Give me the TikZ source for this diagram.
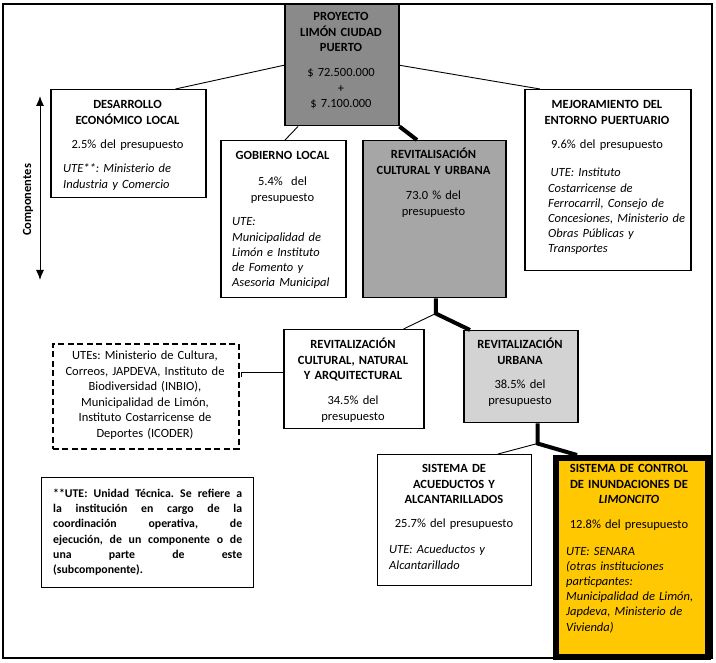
\documentclass[tikz,border=0pt]{standalone}
\usepackage{fontspec}
\setmainfont{Carlito}
\usetikzlibrary{arrows.meta,calc}
\newcommand\fsz{\fontsize{12.5pt}{15.2pt}\selectfont}
\newcommand\nsz{\fontsize{11.8pt}{15.4pt}\selectfont}
\newcommand\jline[1]{\leavevmode\hbox to 189pt{#1}}
\frenchspacing
\definecolor{projgray}{HTML}{8A8A8A}
\definecolor{revgray}{HTML}{A6A6A6}
\definecolor{urbgray}{HTML}{D3D3D3}
\definecolor{yel}{HTML}{FFC800}
\begin{document}
\begin{tikzpicture}[x=1pt,y=-1pt,
  every node/.style={font=\fsz},
  bx/.style={draw, line width=1.5pt, anchor=north west, inner sep=0pt},
  tc/.style={inner sep=0pt, anchor=base, align=center},
  tl/.style={inner sep=0pt, anchor=base west, align=left},
  hd/.style={tc, font=\fsz\bfseries},
  ut/.style={tl, font=\fsz\itshape},
  cthin/.style={line width=0.9pt},
  cthick/.style={line width=4pt, line join=miter},
]
\useasboundingbox (0,0) rectangle (716,663);
% outer frame
\draw[line width=1.5pt] (3,4) rectangle (712,658);

% boxes
\node[bx, fill=projgray, minimum width=114pt, minimum height=121pt] (proj) at (284,4) {};
\node[bx, minimum width=155pt, minimum height=108pt] (desa) at (50,89) {};
\node[bx, minimum width=125pt, minimum height=157pt] (gob) at (220,140) {};
\node[bx, fill=revgray, minimum width=143pt, minimum height=157pt] (revit) at (362,140) {};
\node[bx, minimum width=166pt, minimum height=181pt] (mejo) at (524,89) {};
\node[bx, minimum width=140pt, minimum height=99pt] (cult) at (283,329) {};
\node[bx, fill=urbgray, minimum width=114pt, minimum height=92pt] (urb) at (463,330) {};
\node[bx, dash pattern=on 6pt off 3.5pt, line width=1.6pt, minimum width=186pt, minimum height=105pt] (dash) at (52,343) {};
\node[bx, line width=1.3pt, minimum width=212pt, minimum height=110pt] (note) at (41,477) {};
\node[bx, line width=1.3pt, minimum width=154pt, minimum height=131pt] (acu) at (377,454) {};
\node[bx, fill=yel, line width=6pt, minimum width=152pt, minimum height=199pt] (ctrl) at (553,455) {};

% connectors
\draw[cthin] (proj.west) -- ([xshift=-31pt]desa.north east);
\draw[cthin] (proj.east) -- ([xshift=16pt]mejo.north west);
\draw[cthin] ([xshift=14pt]proj.south west) -- ([xshift=65pt]gob.north west);
\draw[cthick] (proj.south east) -- ([xshift=55pt]revit.north west);
\coordinate (j1) at ([xshift=1.5pt,yshift=-15pt]revit.south);
\draw[cthin] (j1) -- ([xshift=-21pt]cult.north east);
\draw[cthick] ([xshift=1.5pt]revit.south) -- (j1) -- ([xshift=7pt]urb.north west);
\draw[cthin] ([yshift=6.5pt]cult.west) -| ([xshift=2pt,yshift=19.5pt]dash.east);
\coordinate (j2) at ([xshift=-41pt,yshift=-20pt]urb.south east);
\draw[cthin] (j2) -- ([xshift=121pt]acu.north west);
\draw[cthick] ([xshift=-41pt]urb.south east) -- (j2) -- ([xshift=24pt]ctrl.north west);

% components arrow
\coordinate (ct) at (40,96);
\coordinate (cb) at (40,280);
\draw[line width=1pt, {Latex[length=10pt,width=8pt]}-{Latex[length=10pt,width=8pt]}] (ct) -- (cb);
\node[inner sep=0pt, rotate=90, font=\fsz\bfseries] (comp) at (28,200) {Componentes};

% texts
\node[hd, text width=110pt] (projT) at (341,21) {PROYECTO\\LIMÓN CIUDAD\\PUERTO};
\node[tc, text width=110pt] (projM) at (341,77) {\$ 72.500.000\\+\\\$ 7.100.000};

\node[hd, text width=147pt] (desaT) at (127.5,109) {DESARROLLO\\ECONÓMICO LOCAL};
\node[tc, text width=147pt] (desaP) at (127.5,149) {2.5\% del presupuesto};
\node[ut, text width=140pt] (desaU) at (63,173) {UTE**: Ministerio de\\Industria y Comercio};

\node[hd, text width=120pt] (gobT) at (282.5,160) {GOBIERNO LOCAL};
\node[tc, text width=120pt] (gobP) at (282.5,186) {5.4\%\ \ del\\presupuesto};
\node[ut, text width=112pt] (gobU) at (232,226) {UTE:\\Municipalidad de\\Limón e Instituto\\de Fomento y\\Asesoria Municipal};

\node[hd, text width=138pt] (revitT) at (433.5,159) {REVITALISACIÓN\\CULTURAL Y URBANA};
\node[tc, text width=138pt] (revitP) at (433.5,200) {73.0 \% del\\presupuesto};

\node[hd, text width=160pt] (mejoT) at (607,109) {MEJORAMIENTO DEL\\ENTORNO PUERTUARIO};
\node[tc, text width=160pt] (mejoP) at (607,149) {9.6\% del presupuesto};
\node[ut, text width=138pt] (mejoU) at (548,177) {\hspace*{2.5pt}UTE: Instituto\\Costarricense de\\Ferrocarril, Consejo de\\Concesiones, Ministerio de\\Obras Públicas y\\Transportes};

\node[hd, text width=136pt] (cultT) at (353,349) {REVITALIZACIÓN\\CULTURAL, NATURAL\\Y ARQUITECTURAL};
\node[tc, text width=136pt] (cultP) at (353,405) {34.5\% del\\presupuesto};

\node[hd, text width=110pt] (urbT) at (520,349) {REVITALIZACIÓN\\URBANA};
\node[tc, text width=110pt] (urbP) at (520,389) {38.5\% del\\presupuesto};

\node[tc, text width=182pt] (dashT) at (145,360) {UTEs: Ministerio de Cultura,\\[0.3pt]Correos, JAPDEVA, Instituto de\\[0.3pt]Biodiversidad (INBIO),\\[0.3pt]Municipalidad de Limón,\\[0.3pt]Instituto Costarricense de\\[0.3pt]Deportes (ICODER)};

\node[tl, font=\nsz\bfseries, text width=189pt] (noteT) at (53,497) {\jline{**UTE:\hfill Unidad\hfill Técnica.\hfill Se\hfill refiere\hfill a}\\\jline{la\hfill institución\hfill en\hfill cargo\hfill de\hfill la}\\\jline{coordinación\hfill operativa,\hfill de}\\\jline{ejecución,\hfill de\hfill un\hfill componente\hfill o\hfill de}\\\jline{una\hfill parte\hfill de\hfill este}\\(subcomponente).};

\node[hd, text width=150pt] (acuT) at (454,473) {SISTEMA DE\\ACUEDUCTOS Y\\ALCANTARILLADOS};
\node[tc, text width=150pt] (acuP) at (454,528) {25.7\% del presupuesto};
\node[ut, text width=138pt] (acuU) at (389,554) {UTE: Acueductos y\\Alcantarillado};

\node[hd, text width=150pt] (ctrlT) at (629,473) {SISTEMA DE CONTROL\\DE INUNDACIONES DE\\\textit{LIMONCITO}};
\node[tc, text width=150pt] (ctrlP) at (629,529) {12.8\% del presupuesto};
\node[ut, text width=138pt] (ctrlU) at (566,555) {UTE: SENARA\\(otras instituciones\\particpantes:\\Municipalidad de Limón,\\Japdeva, Ministerio de\\Vivienda)};
\end{tikzpicture}
\end{document}
